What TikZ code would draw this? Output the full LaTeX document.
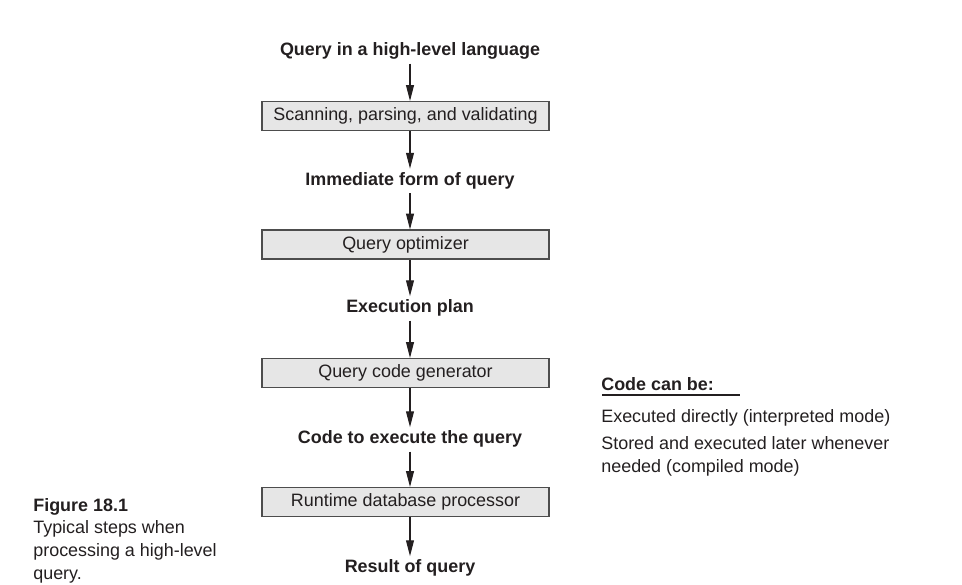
\documentclass[tikz,border=0pt]{standalone}
\usepackage{fontspec}
\setmainfont{Liberation Sans}
\usetikzlibrary{arrows.meta}

\definecolor{boxfill}{HTML}{E6E6E6}
\definecolor{boxline}{HTML}{4D4D4D}
\definecolor{ink}{HTML}{231F20}

\tikzset{
    stepbox/.style={draw=boxline, fill=boxfill, line width=0.6pt, minimum width=5.74cm,
        minimum height=0.58cm, inner sep=0pt, text=ink, font=\fontsize{10.2}{13}\selectfont},
    stage/.style={anchor=base, inner sep=2pt, text=ink, font=\fontsize{10.2}{13}\selectfont\bfseries},
    flow/.style={-{Triangle[length=9pt, width=4.5pt]}, line width=0.6pt, ink},
    note/.style={anchor=base west, inner sep=0pt, text=ink, font=\fontsize{10.2}{13}\selectfont},
}

\begin{document}
\begin{tikzpicture}
    \useasboundingbox (0, 0) rectangle (19.24, 11.7);

    % Stages of the query
    \node[stage] (query) at (8.2, 10.58) {Query in a high-level language};
    \node[stepbox] (scan) at (8.11, 9.38) {Scanning, parsing, and validating};
    \node[stage] (form) at (8.2, 7.99) {Immediate form of query};
    \node[stepbox] (optim) at (8.11, 6.81) {Query optimizer};
    \node[stage] (plan) at (8.2, 5.44) {Execution plan};
    \node[stepbox] (gen) at (8.11, 4.24) {Query code generator};
    \node[stage] (code) at (8.2, 2.82) {Code to execute the query};
    \node[stepbox] (runtime) at (8.11, 1.66) {Runtime database processor};
    \node[stage] (result) at (8.2, 0.24) {Result of query};

    % Arrows
    \draw[flow] (query.south) -- (query.south |- scan.north);
    \draw[flow] (form.north |- scan.south) -- (form.north);
    \draw[flow] (form.south) -- (form.south |- optim.north);
    \draw[flow] (plan.north |- optim.south) -- (plan.north);
    \draw[flow] (plan.south) -- (plan.south |- gen.north);
    \draw[flow] (code.north |- gen.south) -- (code.north);
    \draw[flow] (code.south) -- (code.south |- runtime.north);
    \draw[flow] (result.north |- runtime.south) -- (result.north);

    % Code can be
    \node[note, font=\fontsize{10.2}{13}\selectfont\bfseries] (canbe) at (12.02, 3.89) {Code can be:};
    \draw[ink, line width=0.6pt] (12.04, 3.8) -- (14.8, 3.8);
    \node[note] (direct) at (12.02, 3.24) {Executed directly (interpreted mode)};
    \node[note] (stored) at (12.02, 2.70) {Stored and executed later whenever};
    \node[note] (needed) at (12.02, 2.25) {needed (compiled mode)};

    % Caption
    \node[note, font=\fontsize{10.2}{13}\selectfont\bfseries] (fig) at (0.66, 1.47) {Figure 18.1};
    \node[note] (cap1) at (0.66, 1.02) {Typical steps when};
    \node[note] (cap2) at (0.66, 0.56) {processing a high-level};
    \node[note] (cap3) at (0.66, 0.10) {query.};
\end{tikzpicture}
\end{document}
